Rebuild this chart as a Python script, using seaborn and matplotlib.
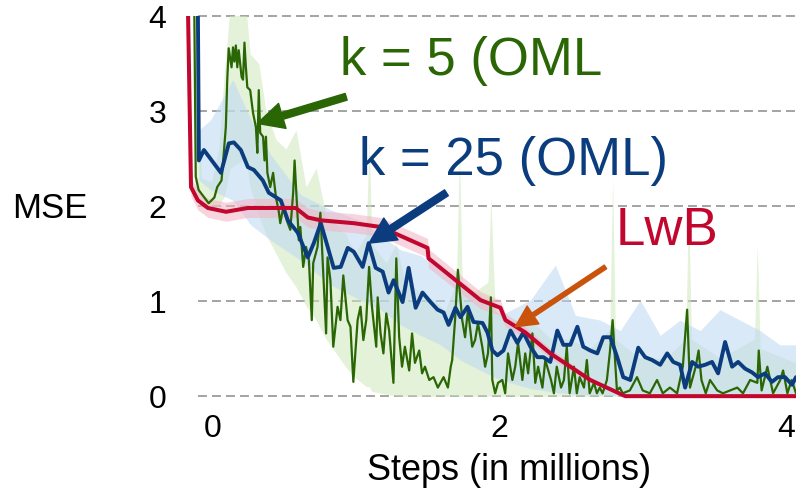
import matplotlib
matplotlib.use("Agg")
import matplotlib.pyplot as plt
import numpy as np
import pandas as pd
import seaborn as sns

# ---------------- data ----------------
# LwB (red)
lwb_x = [-0.174, -0.153, -0.105, -0.035, 0.091, 0.244, 0.578, 0.662, 0.753, 0.983,
         1.171, 1.498, 1.505, 1.868, 2.007, 2.042, 2.181, 2.355, 2.634, 2.878, 4.07]
lwb_y = [4.06, 2.20, 2.06, 1.98, 1.94, 1.98, 1.98, 1.88, 1.85, 1.82,
         1.78, 1.56, 1.45, 1.01, 0.93, 0.80, 0.67, 0.45, 0.17, 0.0, 0.0]
lwb_hw = [0.10, 0.10, 0.10, 0.10, 0.10, 0.10, 0.10, 0.10, 0.10, 0.10,
          0.10, 0.10, 0.10, 0.09, 0.08, 0.07, 0.06, 0.05, 0.03, 0.01, 0.01]

# k = 25 (blue)
k25_x = [-0.105, -0.098, -0.063, -0.028, 0.056, 0.111, 0.146, 0.195, 0.244, 0.286,
         0.348, 0.390, 0.474, 0.523, 0.592, 0.662, 0.704, 0.753, 0.801, 0.843,
         0.892, 0.941, 0.983, 1.045, 1.087, 1.136, 1.185, 1.226, 1.261, 1.324,
         1.366, 1.415, 1.463, 1.519, 1.568, 1.610, 1.645, 1.693, 1.728, 1.777,
         1.819, 1.882, 1.916, 1.951, 1.986, 2.028, 2.077, 2.125, 2.167, 2.216,
         2.265, 2.307, 2.355, 2.404, 2.446, 2.495, 2.544, 2.585, 2.634, 2.683,
         2.725, 2.774, 2.822, 2.864, 2.913, 2.969, 3.017, 3.066, 3.122, 3.171,
         3.213, 3.261, 3.296, 3.345, 3.387, 3.436, 3.484, 3.526, 3.575, 3.624,
         3.666, 3.714, 3.763, 3.805, 3.854, 3.902, 3.944, 3.993, 4.042, 4.07]
k25_y = [4.06, 2.48, 2.59, 2.52, 2.35, 2.66, 2.67, 2.59, 2.41, 2.38,
         2.27, 2.14, 2.06, 1.85, 1.72, 1.46, 1.61, 1.82, 1.57, 1.35,
         1.36, 1.56, 1.52, 1.36, 1.61, 1.35, 1.31, 1.09, 1.22, 0.99,
         1.35, 0.93, 1.09, 0.99, 0.91, 0.88, 0.75, 0.93, 0.83, 0.94,
         0.78, 0.77, 0.67, 0.48, 0.43, 0.48, 0.69, 0.56, 0.67, 0.52,
         0.41, 0.41, 0.36, 0.69, 0.54, 0.54, 0.73, 0.52, 0.48, 0.45,
         0.62, 0.62, 0.41, 0.20, 0.17, 0.51, 0.41, 0.38, 0.33, 0.45,
         0.36, 0.33, 0.09, 0.36, 0.31, 0.33, 0.36, 0.24, 0.57, 0.31,
         0.36, 0.29, 0.25, 0.20, 0.24, 0.15, 0.20, 0.20, 0.12, 0.20]
k25_band_x = [-0.098, -0.014, 0.139, 0.265, 0.404, 0.613, 0.822, 1.031, 1.171, 1.310,
              1.449, 1.589, 1.728, 1.868, 2.007, 2.216, 2.390, 2.530, 2.704, 2.843,
              2.983, 3.122, 3.261, 3.401, 3.540, 3.679, 3.819, 3.958, 4.07]
k25_band_hi = [2.80, 2.91, 3.33, 2.91, 2.54, 2.12, 1.96, 1.85, 1.69, 1.54,
               1.48, 1.33, 1.17, 1.06, 0.85, 1.01, 1.38, 0.85, 0.80, 0.69,
               1.01, 0.64, 0.80, 0.69, 0.91, 0.80, 0.69, 0.54, 0.54]
k25_band_lo = [2.27, 2.17, 2.06, 1.80, 1.64, 1.43, 1.17, 1.01, 0.91, 0.75,
               0.64, 0.54, 0.38, 0.27, 0.17, 0.08, 0.04, 0.02, 0.01, 0.01,
               0.01, 0.01, 0.01, 0.01, 0.01, 0.01, 0.01, 0.01, 0.01]

# k = 5 (green)
k5_x = [-0.13, -0.12, -0.10, -0.06, -0.03, 0.01, 0.03, 0.06, 0.07, 0.09,
        0.10, 0.11, 0.13, 0.14, 0.15, 0.16, 0.17, 0.18, 0.20, 0.21,
        0.22, 0.23, 0.24, 0.26, 0.28, 0.30, 0.31, 0.32, 0.33, 0.35,
        0.36, 0.37, 0.38, 0.40, 0.42, 0.44, 0.46, 0.47, 0.49, 0.52,
        0.54, 0.56, 0.57, 0.59, 0.60, 0.61, 0.63, 0.65, 0.67, 0.69,
        0.70, 0.73, 0.75, 0.77, 0.79, 0.80, 0.82, 0.84, 0.87, 0.89,
        0.91, 0.94, 0.96, 0.98, 1.01, 1.03, 1.05, 1.07, 1.09, 1.11,
        1.14, 1.15, 1.17, 1.19, 1.21, 1.23, 1.26, 1.28, 1.30, 1.32,
        1.34, 1.37, 1.39, 1.41, 1.44, 1.46, 1.48, 1.51, 1.54, 1.57,
        1.61, 1.64, 1.66, 1.67, 1.69, 1.71, 1.74, 1.76, 1.78, 1.81,
        1.83, 1.85, 1.88, 1.90, 1.92, 1.94, 1.95, 1.97, 1.99, 2.02,
        2.04, 2.06, 2.09, 2.11, 2.13, 2.16, 2.18, 2.20, 2.23, 2.25,
        2.27, 2.30, 2.32, 2.36, 2.38, 2.40, 2.43, 2.45, 2.47, 2.49,
        2.52, 2.54, 2.56, 2.59, 2.61, 2.63, 2.66, 2.68, 2.70, 2.72,
        2.75, 2.77, 2.79, 2.82, 2.84, 2.86, 2.91, 2.96, 3.00, 3.05,
        3.10, 3.14, 3.19, 3.24, 3.28, 3.31, 3.33, 3.37, 3.39, 3.41,
        3.44, 3.47, 3.52, 3.56, 3.61, 3.66, 3.70, 3.75, 3.80, 3.81,
        3.83, 3.87, 3.91, 3.96, 3.98, 4.01, 4.04, 4.07]
k5_y = [4.06, 2.31, 2.17, 2.09, 2.03, 2.09, 2.20, 2.27, 2.45, 2.83,
        3.33, 3.66, 3.46, 3.67, 3.52, 3.69, 3.46, 3.64, 3.36, 3.33,
        3.72, 3.46, 3.25, 3.22, 2.98, 2.83, 2.56, 3.22, 2.77, 2.73,
        2.48, 2.73, 2.35, 2.20, 2.35, 2.09, 1.94, 1.82, 1.98, 1.83,
        1.75, 2.14, 2.48, 1.93, 1.64, 1.78, 1.36, 1.57, 1.43, 0.80,
        1.40, 1.57, 1.93, 1.29, 0.66, 1.46, 1.22, 0.52, 0.94, 0.80,
        1.27, 0.80, 0.73, 0.15, 0.80, 0.94, 0.59, 0.80, 1.36, 0.94,
        0.52, 1.04, 0.66, 0.45, 0.87, 0.69, 0.14, 1.45, 0.62, 0.31,
        0.52, 0.27, 0.66, 0.35, 0.48, 0.24, 0.31, 0.17, 0.20, 0.09,
        0.20, 0.09, 0.31, 0.38, 0.80, 1.33, 0.80, 0.62, 0.91, 0.52,
        0.59, 0.77, 0.52, 0.31, 0.45, 1.04, 0.17, 0.03, 0.14, 0.17,
        0.03, 0.45, 0.17, 0.31, 0.56, 0.17, 0.45, 0.24, 0.66, 0.14,
        0.31, 0.09, 0.38, 0.17, 0.03, 0.31, 0.09, 0.17, 0.52, 0.03,
        0.31, 0.03, 0.20, 0.09, 0.38, 0.03, 0.14, 0.03, 0.09, 0.03,
        0.17, 0.45, 0.80, 0.06, 0.09, 0.03, 0.06, 0.20, 0.06, 0.03,
        0.17, 0.03, 0.09, 0.03, 0.31, 0.91, 0.09, 0.31, 0.48, 0.17,
        0.03, 0.17, 0.06, 0.03, 0.06, 0.09, 0.03, 0.17, 0.14, 0.48,
        0.06, 0.31, 0.03, 0.17, 0.27, 0.03, 0.17, 0.03]
k5_band_x = [-0.13, -0.08, -0.01, 0.04, 0.08, 0.12, 0.23, 0.26, 0.32, 0.37,
             0.44, 0.51, 0.58, 0.65, 0.72, 0.79, 0.86, 0.93, 0.99, 1.07,
             1.09, 1.11, 1.21, 1.28, 1.34, 1.45, 1.55, 1.62, 1.70, 1.72,
             1.74, 1.83, 1.92, 1.94, 1.97, 2.08, 2.22, 2.36, 2.49, 2.63,
             2.77, 2.79, 2.81, 2.98, 3.16, 3.30, 3.32, 3.34, 3.54, 3.78,
             3.80, 3.82, 4.07]
k5_band_hi = [4.1, 2.3, 2.25, 2.6, 3.4, 4.1, 4.1, 3.6, 3.5, 3.0,
              2.7, 2.6, 2.8, 2.2, 2.4, 1.9, 1.8, 1.7, 1.5, 1.7,
              2.7, 1.6, 1.4, 1.6, 1.2, 1.1, 1.0, 0.9, 1.2, 2.6,
              1.2, 1.1, 1.2, 2.1, 0.9, 0.8, 0.8, 0.6, 0.6, 0.5,
              0.7, 2.3, 0.6, 0.4, 0.4, 0.6, 2.0, 0.6, 0.4, 0.6,
              1.6, 0.5, 0.35]
k5_band_lo = [2.2, 2.0, 1.95, 2.0, 2.1, 2.4, 2.5, 2.2, 1.9, 1.7,
              1.5, 1.3, 1.15, 0.95, 0.8, 0.6, 0.45, 0.3, 0.2, 0.1,
              0.1, 0.05, 0.02, 0.0, 0.0, 0.0, 0.0, 0.0, 0.0, 0.0,
              0.0, 0.0, 0.0, 0.0, 0.0, 0.0, 0.0, 0.0, 0.0, 0.0,
              0.0, 0.0, 0.0, 0.0, 0.0, 0.0, 0.0, 0.0, 0.0, 0.0,
              0.0, 0.0, 0.0]

y_ticks = [0, 1, 2, 3, 4]
x_ticks = [0, 2, 4]
x_label = "Steps (in millions)"
y_label = "MSE"
labels = {"k5": "k = 5 (OML", "k25": "k = 25 (OML)", "lwb": "LwB"}

# ---------------- style ----------------
sns.set_style("white")
plt.rcParams["font.family"] = ["Liberation Sans", "DejaVu Sans"]
plt.rcParams["text.color"] = "black"
plt.rcParams["axes.labelcolor"] = "black"
plt.rcParams["xtick.color"] = "black"
plt.rcParams["ytick.color"] = "black"

GREEN = "#2b6605"
BLUE = "#0b3d7e"
RED = "#c2072f"
ORANGE = "#c9530b"

fig = plt.figure(figsize=(7.96, 4.92), dpi=100)
ax = fig.add_axes([186 / 796, 1 - 399 / 492, 610 / 796, 383 / 492])
ax.set_xlim(-0.188, 4.07)
ax.set_ylim(-0.03, 4.0)

# dashed grid
ax.hlines(y_ticks, -0.105, 4.07, colors="#a3a3a3", linestyles=(0, (4.6, 2.6)),
          linewidth=1.4, zorder=0.5, clip_on=False)

# bands
ax.fill_between(k5_band_x, k5_band_lo, k5_band_hi, color="#cde8b8", alpha=0.55,
                linewidth=0, zorder=1)
ax.fill_between(k25_band_x, k25_band_lo, k25_band_hi, color="#bcd7f4", alpha=0.55,
                linewidth=0, zorder=1.1)
lwb_arr = np.array(lwb_y)
hw_arr = np.array(lwb_hw)
ax.fill_between(lwb_x, lwb_arr - hw_arr, lwb_arr + hw_arr, color="#f2b3c3",
                alpha=0.55, linewidth=0, zorder=1.2)

# lines
df5 = pd.DataFrame({"x": k5_x, "y": k5_y})
df25 = pd.DataFrame({"x": k25_x, "y": k25_y})
dfl = pd.DataFrame({"x": lwb_x, "y": lwb_y})
sns.lineplot(data=df5, x="x", y="y", ax=ax, color=GREEN, linewidth=1.6,
             sort=False, estimator=None, zorder=2)
sns.lineplot(data=df25, x="x", y="y", ax=ax, color=BLUE, linewidth=2.8,
             sort=False, estimator=None, zorder=3)
sns.lineplot(data=dfl, x="x", y="y", ax=ax, color=RED, linewidth=2.9,
             sort=False, estimator=None, zorder=4)

# annotations
ax.text(0.89, 3.38, labels["k5"], color=GREEN, fontsize=38, ha="left",
        va="baseline", zorder=6)
ax.text(1.02, 2.33, labels["k25"], color=BLUE, fontsize=38, ha="left",
        va="baseline", zorder=6)
ax.text(2.81, 1.59, labels["lwb"], color=RED, fontsize=38, ha="left",
        va="baseline", zorder=6)

ax.annotate("", xy=(0.31, 2.87), xytext=(0.93, 3.15),
            arrowprops=dict(arrowstyle="simple,head_length=0.75,head_width=0.75,tail_width=0.2",
                            color=GREEN, mutation_scale=25, shrinkA=0, shrinkB=0),
            zorder=7)
ax.annotate("", xy=(1.09, 1.61), xytext=(1.63, 2.14),
            arrowprops=dict(arrowstyle="simple,head_length=0.75,head_width=0.75,tail_width=0.2",
                            color=BLUE, mutation_scale=25, shrinkA=0, shrinkB=0),
            zorder=7)
ax.annotate("", xy=(2.11, 0.73), xytext=(2.74, 1.36),
            arrowprops=dict(arrowstyle="simple,head_length=0.7,head_width=0.7,tail_width=0.14",
                            color=ORANGE, mutation_scale=22, shrinkA=0, shrinkB=0),
            zorder=7)

# axes
for s in ax.spines.values():
    s.set_visible(False)
ax.set_xticks(x_ticks)
ax.set_yticks(y_ticks)
ax.set_xticklabels([str(t) for t in x_ticks])
ax.set_yticklabels([str(t) for t in y_ticks])
ax.tick_params(axis="both", length=0, labelsize=23, colors="black")
ax.tick_params(axis="y", pad=14)
ax.tick_params(axis="x", pad=11)
ax.set_xlabel(x_label, fontsize=26, va="baseline")
ax.set_ylabel(y_label, fontsize=25, rotation=0, ha="center", va="center")
ax.xaxis.set_label_coords((509 - 186) / 610, (399 - 480) / 383)
ax.yaxis.set_label_coords((50 - 186) / 610, (399 - 208) / 383)
ax.grid(False)

fig.savefig("out.png", dpi=100)
